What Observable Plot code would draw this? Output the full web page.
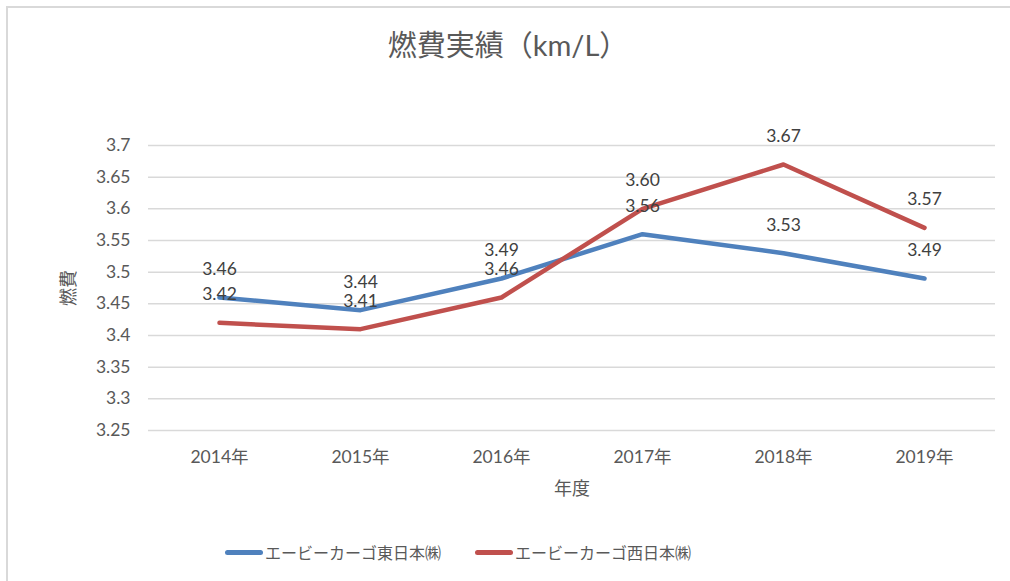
<!DOCTYPE html>
<html>
<head>
<meta charset="utf-8">
<script src="https://cdn.jsdelivr.net/npm/d3@7"></script>
<script src="https://cdn.jsdelivr.net/npm/@observablehq/plot@0.6"></script>
<style>
  html, body { margin: 0; padding: 0; background: #fff; width: 1010px; height: 581px; overflow: hidden; }
  body { position: relative; font-family: Lato, "Noto Sans CJK JP", sans-serif; }
  #frame { position: absolute; left: 6px; top: 6px; width: 1100px; height: 700px; border: 2px solid #d9d9d9; box-sizing: border-box; }
  #title { position: absolute; left: 0; width: 1016px; top: 26px; text-align: center; font-size: 29px; color: #595959; line-height: 38px; }
  #chart { position: absolute; left: 0; top: 100px; }
  #chart g[aria-label="y-axis label"], #chart g[aria-label="x-axis label"] { font-size: 18px; }
  #legend { position: absolute; top: 540px; left: 0; width: 1010px; height: 24px; font-size: 16px; color: #595959; }
  .item { position: absolute; top: 0; display: flex; align-items: center; height: 24px; }
  .sw { display: inline-block; width: 38px; height: 5px; border-radius: 3px; margin-right: 2px; }
</style>
</head>
<body>
<div id="frame"></div>
<div id="title">燃費実績（km/L）</div>
<div id="chart"></div>
<div id="legend"></div>
<script>
const years = ["2014年", "2015年", "2016年", "2017年", "2018年", "2019年"];
const seriesNames = ["エービーカーゴ東日本㈱", "エービーカーゴ西日本㈱"];
const eastValues = [3.46, 3.44, 3.49, 3.56, 3.53, 3.49];
const westValues = [3.42, 3.41, 3.46, 3.60, 3.67, 3.57];
const yTicks = [3.25, 3.3, 3.35, 3.4, 3.45, 3.5, 3.55, 3.6, 3.65, 3.7];
const colors = ["#4F81BD", "#C0504D"];

const data = [];
years.forEach((y, i) => {
  data.push({year: y, value: eastValues[i], series: seriesNames[0]});
  data.push({year: y, value: westValues[i], series: seriesNames[1]});
});

const chart = Plot.plot({
  width: 1010,
  height: 410,
  marginTop: 45,
  marginBottom: 80,
  marginLeft: 148,
  marginRight: 15,
  style: {fontFamily: 'Lato, "Noto Sans CJK JP", sans-serif', fontSize: "17.5px", color: "#595959", background: "transparent"},
  x: {type: "point", domain: years, padding: 0.5, label: "年度", labelAnchor: "center", labelArrow: "none", tickSize: 0, tickPadding: 20, labelOffset: 64},
  y: {domain: [3.25, 3.7], ticks: yTicks, tickFormat: d => String(+d.toFixed(2)), label: "燃費", labelAnchor: "center", labelArrow: "none", tickSize: 0, tickPadding: 18, labelOffset: 86},
  color: {domain: seriesNames, range: colors},
  marks: [
    Plot.gridY(yTicks, {stroke: "#d9d9d9", strokeOpacity: 1, strokeWidth: 1.5}),
    Plot.line(data, {x: "year", y: "value", z: "series", stroke: "series", strokeWidth: 4.5, strokeLinejoin: "round", strokeLinecap: "round"}),
    Plot.text(data, {x: "year", y: "value", text: d => d.value.toFixed(2), dy: -28, fill: "#404040", fontSize: 17.5})
  ]
});
document.getElementById("chart").appendChild(chart);

const legend = document.getElementById("legend");
const lefts = [225, 475];
seriesNames.forEach((name, i) => {
  const item = document.createElement("div");
  item.className = "item";
  item.style.left = lefts[i] + "px";
  const sw = document.createElement("span");
  sw.className = "sw";
  sw.style.background = colors[i];
  const t = document.createElement("span");
  t.textContent = name;
  item.appendChild(sw);
  item.appendChild(t);
  legend.appendChild(item);
});
</script>
</body>
</html>
